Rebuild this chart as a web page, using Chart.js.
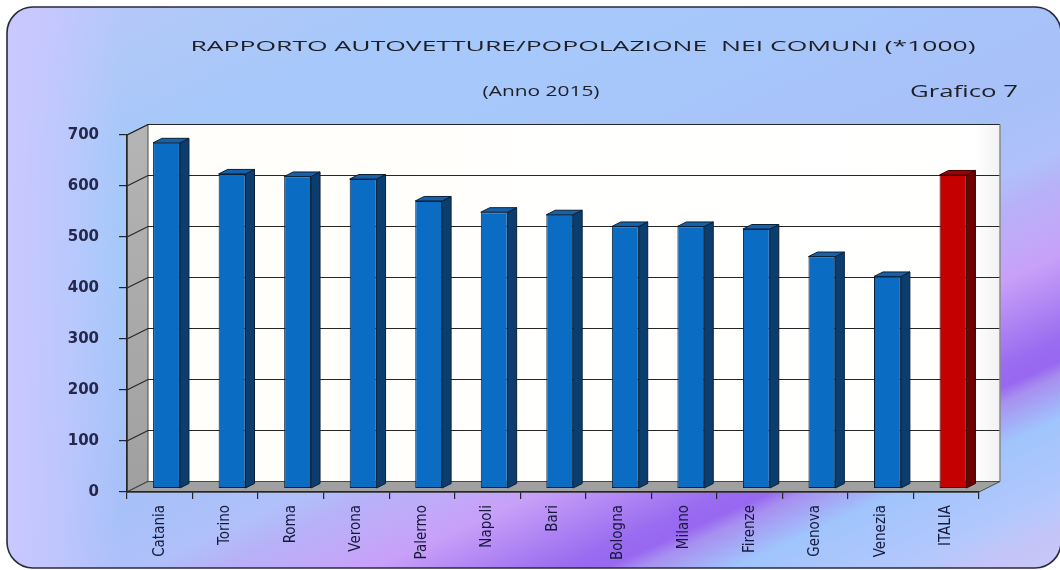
<!DOCTYPE html>
<html>
<head>
<meta charset="utf-8">
<style>
  html, body { margin: 0; padding: 0; background: #ffffff; }
  canvas { display: block; }
</style>
<script src="https://cdn.jsdelivr.net/npm/chart.js@4.4.1/dist/chart.umd.min.js"></script>
</head>
<body>
<canvas id="chart" width="1060" height="570"></canvas>
<script>
// Cars per 1000 inhabitants, main Italian cities, year 2015
const categories = ['Catania', 'Torino', 'Roma', 'Verona', 'Palermo', 'Napoli', 'Bari',
                    'Bologna', 'Milano', 'Firenze', 'Genova', 'Venezia', 'ITALIA'];
const values = [678, 617, 612, 607, 564, 542, 537, 514, 514, 509, 455, 416, 615];
const yTickValues = [0, 100, 200, 300, 400, 500, 600, 700];
const totalLabel = 'ITALIA';

const titleText = 'RAPPORTO AUTOVETTURE/POPOLAZIONE  NEI COMUNI (*1000)';
const subtitleText = '(Anno 2015)';
const tagText = 'Grafico 7';

// Pseudo-3D geometry (pixel offsets of the depth axis)
const WALL = { dx: 21, dy: -10.5 };      // front plane -> back wall
const BAR_SHIFT = { dx: 6.75, dy: -3.4 }; // columns sit a little behind the front plane
const BAR_DEPTH = { dx: 9, dy: -4.5 };    // thickness of each column

const isTotal = c => c === totalLabel;
const frontColors = categories.map(c => isTotal(c) ? '#c40000' : '#0a6cc2');
const sideColors  = categories.map(c => isTotal(c) ? '#6e0000' : '#0b3d6e');
const topColors   = categories.map(c => isTotal(c) ? '#a30000' : '#1561ad');
const edgeColors  = categories.map(c => isTotal(c) ? '#3a0000' : '#0a2036');

function poly(ctx, pts, fill, stroke, lw) {
  ctx.beginPath();
  ctx.moveTo(pts[0][0], pts[0][1]);
  for (let i = 1; i < pts.length; i++) ctx.lineTo(pts[i][0], pts[i][1]);
  ctx.closePath();
  if (fill) { ctx.fillStyle = fill; ctx.fill(); }
  if (stroke) { ctx.strokeStyle = stroke; ctx.lineWidth = lw || 1; ctx.stroke(); }
}

function roundedRect(ctx, x, y, w, h, r) {
  ctx.beginPath();
  ctx.moveTo(x + r, y);
  ctx.lineTo(x + w - r, y);
  ctx.arcTo(x + w, y, x + w, y + r, r);
  ctx.lineTo(x + w, y + h - r);
  ctx.arcTo(x + w, y + h, x + w - r, y + h, r);
  ctx.lineTo(x + r, y + h);
  ctx.arcTo(x, y + h, x, y + h - r, r);
  ctx.lineTo(x, y + r);
  ctx.arcTo(x, y, x + r, y, r);
  ctx.closePath();
}

function stretchedText(ctx, text, font, cx, cy, width, color) {
  ctx.save();
  ctx.font = font;
  const w = ctx.measureText(text).width;
  ctx.translate(cx, cy);
  ctx.scale(width / w, 1);
  ctx.fillStyle = color;
  ctx.textAlign = 'center';
  ctx.textBaseline = 'middle';
  ctx.fillText(text, 0, 0);
  ctx.restore();
}

// Background panel, titles and the 3D walls / floor
const scenePlugin = {
  id: 'scene',
  beforeDraw(chart) {
    const { ctx, chartArea: a, scales: { y } } = chart;
    ctx.save();
    ctx.fillStyle = '#ffffff';
    ctx.fillRect(0, 0, chart.width, chart.height);

    // rounded panel with diagonal multi-tone gradient
    const g = ctx.createLinearGradient(0, 0, 397, 873);
    [[0, '#bcc6f8'], [0.10, '#b0c8f8'], [0.18, '#a8c8fa'], [0.31, '#a6c8fa'],
     [0.54, '#a8c0f8'], [0.60, '#b0c0fa'], [0.635, '#b8b0f8'], [0.665, '#c0aaf8'],
     [0.70, '#c8a0f8'], [0.78, '#9a6cf0'], [0.80, '#9868f0'], [0.815, '#a890f0'],
     [0.855, '#a0c4fc'], [0.93, '#b4c8fc'], [0.96, '#c4c4f8'], [1, '#c8c8f8']]
      .forEach(([t, c]) => g.addColorStop(t, c));
    roundedRect(ctx, 7, 7, 1054, 561, 26);
    ctx.fillStyle = g;
    ctx.fill();
    ctx.save();
    ctx.clip();
    const h = ctx.createLinearGradient(7, 0, 120, 0);
    h.addColorStop(0, 'rgba(202,200,255,1)');
    h.addColorStop(0.45, 'rgba(200,200,255,0.7)');
    h.addColorStop(1, 'rgba(200,200,255,0)');
    ctx.fillStyle = h;
    ctx.fillRect(7, 7, 120, 561);
    ctx.restore();
    roundedRect(ctx, 7, 7, 1054, 561, 26);
    ctx.lineWidth = 1.6;
    ctx.strokeStyle = '#2a2a3a';
    ctx.stroke();

    // titles
    stretchedText(ctx, titleText, '15px "Open Sans"', 583, 47, 785, '#1e1e24');
    stretchedText(ctx, subtitleText, '14px "Open Sans"', 541, 92, 117, '#1e1e24');
    stretchedText(ctx, tagText, '17px "Open Sans"', 964, 92, 108, '#1e1e24');

    const L = a.left, R = a.right, T = a.top, B = a.bottom;
    const dx = WALL.dx, dy = WALL.dy;

    // back wall
    const bw = ctx.createLinearGradient(L + dx, 0, R + dx, 0);
    bw.addColorStop(0, '#fffefa');
    bw.addColorStop(0.97, '#ffffff');
    bw.addColorStop(1, '#f2f2f2');
    poly(ctx, [[L + dx, T + dy], [R + dx, T + dy], [R + dx, B + dy], [L + dx, B + dy]], bw, null);

    // left wall
    const lw = ctx.createLinearGradient(0, T, 0, B);
    lw.addColorStop(0, '#b4b4b4');
    lw.addColorStop(1, '#a0a0a0');
    poly(ctx, [[L, T], [L + dx, T + dy], [L + dx, B + dy], [L, B]], lw, '#4a4a4a', 1);

    // horizontal grid lines on the left and back walls
    ctx.strokeStyle = '#262626';
    ctx.lineWidth = 1.2;
    yTickValues.forEach(v => {
      const py = y.getPixelForValue(v);
      ctx.beginPath();
      ctx.moveTo(L, py);
      ctx.lineTo(L + dx, py + dy);
      ctx.lineTo(R + dx, py + dy);
      ctx.stroke();
    });

    // back wall right edge
    ctx.strokeStyle = '#8a8a8a';
    ctx.lineWidth = 1.5;
    ctx.beginPath();
    ctx.moveTo(R + dx, T + dy);
    ctx.lineTo(R + dx, B + dy);
    ctx.stroke();

    // floor
    poly(ctx, [[L, B], [R, B], [R + dx, B + dy], [L + dx, B + dy]], '#a0a0a0', '#4a4a4a', 1);
    ctx.restore();
  }
};

// Columns: front faces come from the bar elements, sides and tops are added here
const columnPlugin = {
  id: 'columns3d',
  beforeDatasetsDraw(chart) {
    chart.ctx.save();
    chart.ctx.translate(BAR_SHIFT.dx, BAR_SHIFT.dy);
  },
  afterDatasetsDraw(chart) {
    const ctx = chart.ctx;
    const meta = chart.getDatasetMeta(0);
    const dx = BAR_DEPTH.dx, dy = BAR_DEPTH.dy;
    meta.data.forEach((bar, i) => {
      const { x, y, base, width } = bar.getProps(['x', 'y', 'base', 'width'], true);
      const l = x - width / 2, r = x + width / 2;
      poly(ctx, [[r, y], [r + dx, y + dy], [r + dx, base + dy], [r, base]], sideColors[i], edgeColors[i], 1);
      poly(ctx, [[l, y], [l + dx, y + dy], [r + dx, y + dy], [r, y]], topColors[i], edgeColors[i], 1);
    });
    ctx.restore();
  }
};

new Chart(document.getElementById('chart'), {
  type: 'bar',
  data: {
    labels: categories,
    datasets: [{
      data: values,
      backgroundColor: frontColors,
      borderColor: edgeColors,
      borderWidth: 1,
      borderSkipped: false,
      barPercentage: 0.41,
      categoryPercentage: 1,
      clip: false
    }]
  },
  options: {
    responsive: false,
    animation: false,
    events: [],
    layout: { padding: { top: 135, right: 81, bottom: 0, left: 0 } },
    plugins: {
      legend: { display: false },
      tooltip: { enabled: false },
      title: { display: false }
    },
    scales: {
      x: {
        ticks: {
          autoSkip: false,
          minRotation: 90,
          maxRotation: 90,
          padding: 6,
          color: '#15193a',
          font: { family: '"Liberation Sans Narrow", "DejaVu Sans Condensed", sans-serif', size: 15 }
        },
        grid: { display: true, drawOnChartArea: false, drawTicks: true, tickLength: 7, offset: true, color: '#262626', lineWidth: 1.2 },
        border: { display: true, color: '#262626', width: 1.6 },
        afterFit(scale) { scale.height = 78; }
      },
      y: {
        min: 0,
        max: 700,
        afterBuildTicks(scale) { scale.ticks = yTickValues.map(v => ({ value: v })); },
        ticks: {
          padding: 20,
          color: '#25284a',
          font: { family: '"DejaVu Sans", sans-serif', size: 15, weight: 'bold' }
        },
        grid: { display: true, drawOnChartArea: false, drawTicks: true, tickLength: 8, color: '#262626', lineWidth: 1.2 },
        border: { display: true, color: '#262626', width: 1.6 },
        afterFit(scale) { scale.width = 127; }
      }
    }
  },
  plugins: [scenePlugin, columnPlugin]
});
</script>
</body>
</html>
